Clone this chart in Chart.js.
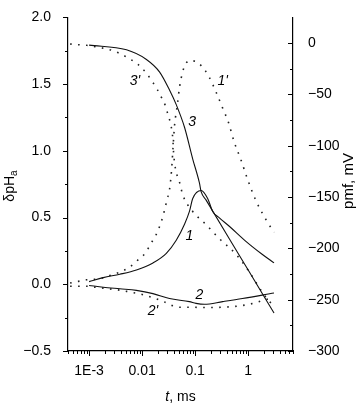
<!DOCTYPE html>
<html><head><meta charset="utf-8">
<script src="https://cdn.jsdelivr.net/npm/chart.js@4.4.0/dist/chart.umd.min.js"></script>
<style>html,body{margin:0;padding:0;background:#fff;}</style>
</head><body>
<canvas id="c" width="356" height="404"></canvas>
<script>
// ---- data (t in ms) ----
const curve1T = [0.001, 0.00185, 0.0038, 0.0078, 0.016, 0.0286, 0.044, 0.063, 0.078, 0.090, 0.13, 0.172, 0.214, 0.286, 0.44, 0.905, 1.83, 3.07];
const curve1Y = [0.02, 0.05, 0.075, 0.107, 0.16, 0.232, 0.33, 0.45, 0.546, 0.643, 0.703, 0.643, 0.546, 0.498, 0.435, 0.322, 0.225, 0.16];

const curve2T = [0.001, 0.00185, 0.0038, 0.0078, 0.016, 0.0328, 0.078, 0.104, 0.149, 0.33, 0.78, 3.07];
const curve2Y = [-0.009, -0.022, -0.034, -0.046, -0.07, -0.107, -0.13, -0.143, -0.15, -0.13, -0.107, -0.065];

const curve3T = [0.001, 0.00507, 0.01205, 0.0214, 0.033, 0.044, 0.063, 0.090, 0.12, 0.13, 0.16, 0.44, 1.04, 3.07];
const curve3P = [-2, -6.6, -16, -28.3, -46, -60, -82, -113, -136, -145, -152.8, -190.6, -222.6, -263];

const curve1pT = [0.000438, 0.000627, 0.0009, 0.00135, 0.00193, 0.00284, 0.00409, 0.00585, 0.00837, 0.0117, 0.0145, 0.018, 0.023, 0.0266, 0.0293, 0.033, 0.0359, 0.0383, 0.041, 0.046, 0.0507, 0.0585, 0.0677, 0.078, 0.104, 0.13, 0.18, 0.248, 0.33, 0.427, 0.546, 0.73, 0.97, 1.39, 2.15, 3.07];
const curve1pY = [0.009, 0.022, 0.034, 0.038, 0.051, 0.075, 0.096, 0.13, 0.183, 0.237, 0.304, 0.364, 0.47, 0.56, 0.63, 0.715, 0.855, 1.029, 1.196, 1.34, 1.476, 1.596, 1.657, 1.676, 1.669, 1.638, 1.56, 1.44, 1.32, 1.21, 1.065, 0.933, 0.788, 0.63, 0.486, 0.389];

const curve2pT = [0.000438, 0.000627, 0.0009, 0.00129, 0.00185, 0.00284, 0.00409, 0.00584, 0.00863, 0.0124, 0.018, 0.0254, 0.037, 0.0523, 0.0727, 0.185, 0.678, 1.39, 2.0, 3.07];
const curve2pY = [-0.0145, -0.0145, -0.0145, -0.022, -0.029, -0.038, -0.046, -0.058, -0.07, -0.087, -0.107, -0.13, -0.16, -0.172, -0.172, -0.174, -0.162, -0.138, -0.118, -0.10];

const curve3pT = [0.000438, 0.000627, 0.0009, 0.00129, 0.00185, 0.00277, 0.00397, 0.00568, 0.00837, 0.0117, 0.0153, 0.0194, 0.0236, 0.0277, 0.0306, 0.0355, 0.038, 0.0392, 0.041, 0.044, 0.0507, 0.0585, 0.090, 0.161, 0.286, 0.588, 1.04, 1.83, 3.07];
const curve3pP = [-0.9, -1.6, -2.2, -3.5, -5, -7.3, -10.7, -15.1, -20.8, -28.6, -37, -45.3, -53.8, -61.6, -69.5, -82, -94, -107, -117, -126, -135.6, -148, -164, -177, -190.6, -205.7, -222.6, -242.5, -257];

// ---- axes ----
const xMin = 0.0004, xMax = 7;
const xMajorLabels = {'-3': '1E-3', '-2': '0.01', '-1': '0.1', '0': '1'};
const yMin = -0.5, yMax = 2.0, yStep = 0.25;
const y2Min = -300, y2Max = 25, y2Step = 25, y2TickTop = 0;

// curve labels (text, t, δpH)
const curveLabels = [
  ["3'", 0.0073, 1.52], ["1'", 0.33, 1.524], ["3", 0.088, 1.215],
  ["1", 0.078, 0.364], ["2", 0.12, -0.078], ["2'", 0.016, -0.203]
];

const FONT = 'Arial, "Liberation Sans", Helvetica, sans-serif';
const MINUS = '\u2212';

function pts(ts, vs) { return ts.map((t, i) => ({x: t, y: vs[i]})); }
function isPow10(v) { const l = Math.log10(v); return Math.abs(l - Math.round(l)) < 1e-6; }

function xTicks() {
  const out = [];
  for (let e = -4; e <= 0; e++) for (let m = 1; m <= 9; m++) {
    const v = m * Math.pow(10, e);
    if (v >= xMin - 1e-12 && v <= xMax + 1e-9) out.push(v);
  }
  return out;
}
function linTicks(a, b, s) { const o = []; for (let v = a; v <= b + 1e-9; v += s) o.push(+v.toFixed(6)); return o; }

const solid = (data, axis) => ({data, yAxisID: axis, borderColor: '#111', borderWidth: 1.1, pointRadius: 0, fill: false, cubicInterpolationMode: 'monotone'});
const dotted = (data, axis) => ({data, yAxisID: axis, borderColor: '#222', borderWidth: 1.6, borderDash: [1.6, 6.4], pointRadius: 0, fill: false, cubicInterpolationMode: 'monotone'});

const decor = {
  id: 'decor',
  afterDraw(chart) {
    const ctx = chart.ctx;
    const {left, right, top, bottom} = chart.chartArea;
    const xs = chart.scales.x, yl = chart.scales.y, yr = chart.scales.y2;
    ctx.save();
    ctx.strokeStyle = '#000'; ctx.lineWidth = 1;
    xs.ticks.forEach(t => {
      const px = Math.round(xs.getPixelForValue(t.value)) + 0.5;
      const len = isPow10(t.value) ? 5 : 3;
      ctx.beginPath(); ctx.moveTo(px, bottom); ctx.lineTo(px, bottom + len); ctx.stroke();
    });
    yl.ticks.forEach(t => {
      const py = Math.round(yl.getPixelForValue(t.value)) + 0.5;
      const major = Math.abs(t.value * 2 - Math.round(t.value * 2)) < 1e-6;
      ctx.beginPath(); ctx.moveTo(left, py); ctx.lineTo(left - (major ? 5 : 3), py); ctx.stroke();
    });
    yr.ticks.forEach(t => {
      if (t.value > y2TickTop) return;
      const py = Math.round(yr.getPixelForValue(t.value)) + 0.5;
      const major = t.value % 50 === 0;
      ctx.beginPath(); ctx.moveTo(right, py); ctx.lineTo(right - (major ? 5 : 3), py); ctx.stroke();
    });
    ctx.fillStyle = '#000';
    // curve labels
    ctx.font = 'italic 14px ' + FONT;
    ctx.textAlign = 'center'; ctx.textBaseline = 'middle';
    curveLabels.forEach(([s, t, v]) => ctx.fillText(s, xs.getPixelForValue(t), yl.getPixelForValue(v)));
    // x title
    ctx.textAlign = 'left'; ctx.textBaseline = 'alphabetic';
    ctx.font = 'italic 14px ' + FONT; const w1 = ctx.measureText('t').width;
    ctx.font = '14px ' + FONT; const w2 = ctx.measureText(', ms').width;
    const cx = (left + right) / 2, x0 = cx - (w1 + w2) / 2;
    ctx.font = 'italic 14px ' + FONT; ctx.fillText('t', x0, 401);
    ctx.font = '14px ' + FONT; ctx.fillText(', ms', x0 + w1, 401);
    // left title
    ctx.save();
    ctx.translate(14, 186); ctx.rotate(-Math.PI / 2);
    ctx.font = '14px ' + FONT; const wa = ctx.measureText('\u03b4pH').width;
    ctx.font = '10px ' + FONT; const wb = ctx.measureText('a').width;
    const s0 = -(wa + wb) / 2;
    ctx.font = '14px ' + FONT; ctx.fillText('\u03b4pH', s0, 0);
    ctx.font = '10px ' + FONT; ctx.fillText('a', s0 + wa, 3);
    ctx.restore();
    // right title
    ctx.save();
    ctx.translate(353, 181); ctx.rotate(-Math.PI / 2);
    ctx.font = '15px ' + FONT; ctx.textAlign = 'center';
    ctx.fillText('pmf, mV', 0, 0);
    ctx.restore();
    ctx.restore();
  }
};

new Chart(document.getElementById('c'), {
  type: 'line',
  data: {datasets: [
    solid(pts(curve1T, curve1Y), 'y'),
    solid(pts(curve2T, curve2Y), 'y'),
    solid(pts(curve3T, curve3P), 'y2'),
    dotted(pts(curve1pT, curve1pY), 'y'),
    dotted(pts(curve2pT, curve2pY), 'y'),
    dotted(pts(curve3pT, curve3pP), 'y2')
  ]},
  options: {
    responsive: false, animation: false, devicePixelRatio: 1,
    layout: {padding: {top: 6, left: 0, right: 0, bottom: 0}},
    plugins: {legend: {display: false}, tooltip: {enabled: false}},
    elements: {line: {tension: 0}},
    scales: {
      x: {
        type: 'logarithmic', min: xMin, max: xMax,
        afterBuildTicks: s => { s.ticks = xTicks().map(v => ({value: v})); },
        afterFit: s => { s.height = 53; },
        grid: {display: false},
        border: {display: true, color: '#000', width: 1.2},
        ticks: {autoSkip: false, maxRotation: 0, padding: 4, color: '#000', font: {family: FONT, size: 14},
          callback: v => { if (!isPow10(v)) return ''; return xMajorLabels[String(Math.round(Math.log10(v)))] || ''; }}
      },
      y: {
        type: 'linear', position: 'left', min: yMin, max: yMax,
        afterBuildTicks: s => { s.ticks = linTicks(yMin, yMax, yStep).map(v => ({value: v})); },
        afterFit: s => { s.width = 68; },
        grid: {display: false},
        border: {display: true, color: '#000', width: 1.2},
        ticks: {padding: 9, color: '#000', font: {family: FONT, size: 14},
          callback: v => { if (Math.abs(v * 2 - Math.round(v * 2)) > 1e-6) return ''; return (v < 0 ? MINUS : '') + Math.abs(v).toFixed(1); }}
      },
      y2: {
        type: 'linear', position: 'right', min: y2Min, max: y2Max,
        afterBuildTicks: s => { s.ticks = linTicks(y2Min, y2Max, y2Step).map(v => ({value: v})); },
        afterFit: s => { s.width = 63; },
        grid: {display: false},
        border: {display: true, color: '#000', width: 1.2},
        ticks: {padding: 7, color: '#000', font: {family: FONT, size: 14},
          callback: v => { if (v > y2TickTop || v % 50 !== 0) return ''; return (v < 0 ? MINUS : '') + Math.abs(v); }}
      }
    }
  },
  plugins: [decor]
});
</script>
</body></html>
